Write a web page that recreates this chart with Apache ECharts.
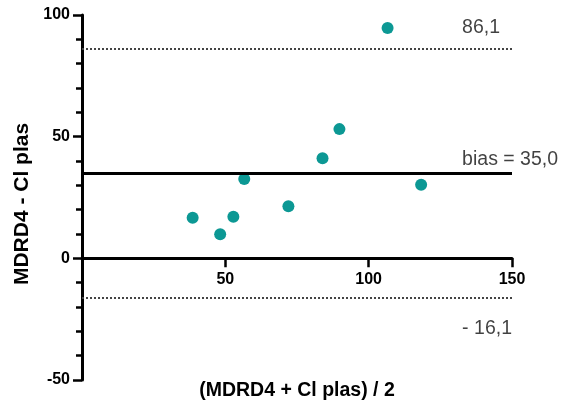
<!DOCTYPE html>
<html>
<head>
<meta charset="utf-8">
<script src="https://cdn.jsdelivr.net/npm/echarts@6/dist/echarts.min.js"></script>
<style>
  html, body { margin: 0; padding: 0; background: #fff; }
  #chart { width: 570px; height: 408px; }
</style>
</head>
<body>
<div id="chart"></div>
<script>
// Bland-Altman plot: mean of the two methods vs their difference
const meanValues = [38.6, 48.2, 52.8, 56.6, 72.0, 83.9, 89.8, 106.6, 118.3];
const diffValues = [16.7, 9.9, 17.1, 32.6, 21.4, 41.1, 53.1, 94.7, 30.2];

// Upper limit of agreement, bias, lower limit of agreement
const limitValues = [86.1, 35.0, -16.1];
const limitNames = ['upper', 'bias', 'lower'];
const limitLabelX = 132.6;

const xTicks = { min: 0, max: 150, interval: 50 };
const yTicks = { min: -50, max: 100, interval: 50 };

const xTitle = '(MDRD4 + Cl plas) / 2';
const yTitle = 'MDRD4 - Cl plas';

function fmtComma(v) {
  const s = Math.abs(v).toFixed(1).replace('.', ',');
  return v < 0 ? '- ' + s : s;
}

const points = meanValues.map((m, i) => [m, diffValues[i]]);

const lineStyles = {
  upper: { type: [2, 2], width: 2, color: '#444' },
  bias: { type: 'solid', width: 3, color: '#000' },
  lower: { type: [2, 2], width: 2, color: '#444' }
};
const labelOffsets = { upper: -21, bias: -14, lower: 31 };

// plot area
const grid = { left: 82, right: 58, top: 15, bottom: 28 };
const plotHeight = 408 - grid.top - grid.bottom;
// lift the x axis from the bottom edge up to y = 0
const xAxisOffset = -plotHeight * (0 - yTicks.min) / (yTicks.max - yTicks.min);

const chart = echarts.init(document.getElementById('chart'), null, { renderer: 'canvas' });

chart.setOption({
  animation: false,
  grid: Object.assign({ containLabel: false, outerBoundsMode: 'none' }, grid),
  xAxis: {
    type: 'value',
    min: xTicks.min, max: xTicks.max, interval: xTicks.interval,
    offset: xAxisOffset,
    name: xTitle,
    nameLocation: 'middle',
    nameGap: 122,
    nameTextStyle: { fontFamily: 'Liberation Sans, Arial, sans-serif', fontWeight: 'bold', fontSize: 19.5, color: '#000' },
    axisLine: { onZero: false, lineStyle: { color: '#000', width: 3 } },
    axisTick: { length: 9, lineStyle: { color: '#000', width: 2.5 } },
    axisLabel: {
      margin: 13,
      fontFamily: 'Liberation Sans, Arial, sans-serif', fontWeight: 'bold', fontSize: 16, color: '#000',
      formatter: v => (v === 0 ? '' : String(v))
    },
    splitLine: { show: false }
  },
  yAxis: {
    type: 'value',
    min: yTicks.min, max: yTicks.max, interval: yTicks.interval,
    name: yTitle,
    nameLocation: 'middle',
    nameGap: 38,
    nameTextStyle: {
      fontFamily: 'Liberation Sans, Arial, sans-serif', fontWeight: 'bold', fontSize: 21, color: '#000',
      padding: [0, 13, 0, 0]
    },
    axisLine: { lineStyle: { color: '#000', width: 3 } },
    axisTick: { length: 9, lineStyle: { color: '#000', width: 2.5 } },
    minorTick: { show: true, splitNumber: 5, length: 6, lineStyle: { color: '#000', width: 2.5 } },
    axisLabel: {
      margin: 12,
      fontFamily: 'Liberation Sans, Arial, sans-serif', fontWeight: 'bold', fontSize: 16, color: '#000'
    },
    splitLine: { show: false },
    minorSplitLine: { show: false }
  },
  series: [
    {
      type: 'scatter',
      data: points,
      symbolSize: 12,
      itemStyle: { color: '#0c9894', opacity: 1 },
      z: 3,
      markLine: {
        silent: true,
        symbol: 'none',
        label: { show: false },
        data: limitValues.map((v, i) => ({
          yAxis: v,
          lineStyle: lineStyles[limitNames[i]]
        }))
      }
    },
    {
      type: 'scatter',
      silent: true,
      symbolSize: 0,
      data: limitValues.map((v, i) => ({
        value: [limitLabelX, v],
        label: {
          show: true,
          position: [0, labelOffsets[limitNames[i]]],
          align: 'left',
          verticalAlign: 'middle',
          fontFamily: 'Liberation Sans, Arial, sans-serif',
          fontSize: 19.5,
          color: '#111',
          formatter: () => (limitNames[i] === 'bias' ? 'bias = ' : '') + fmtComma(v)
        }
      }))
    }
  ]
});
</script>
</body>
</html>
